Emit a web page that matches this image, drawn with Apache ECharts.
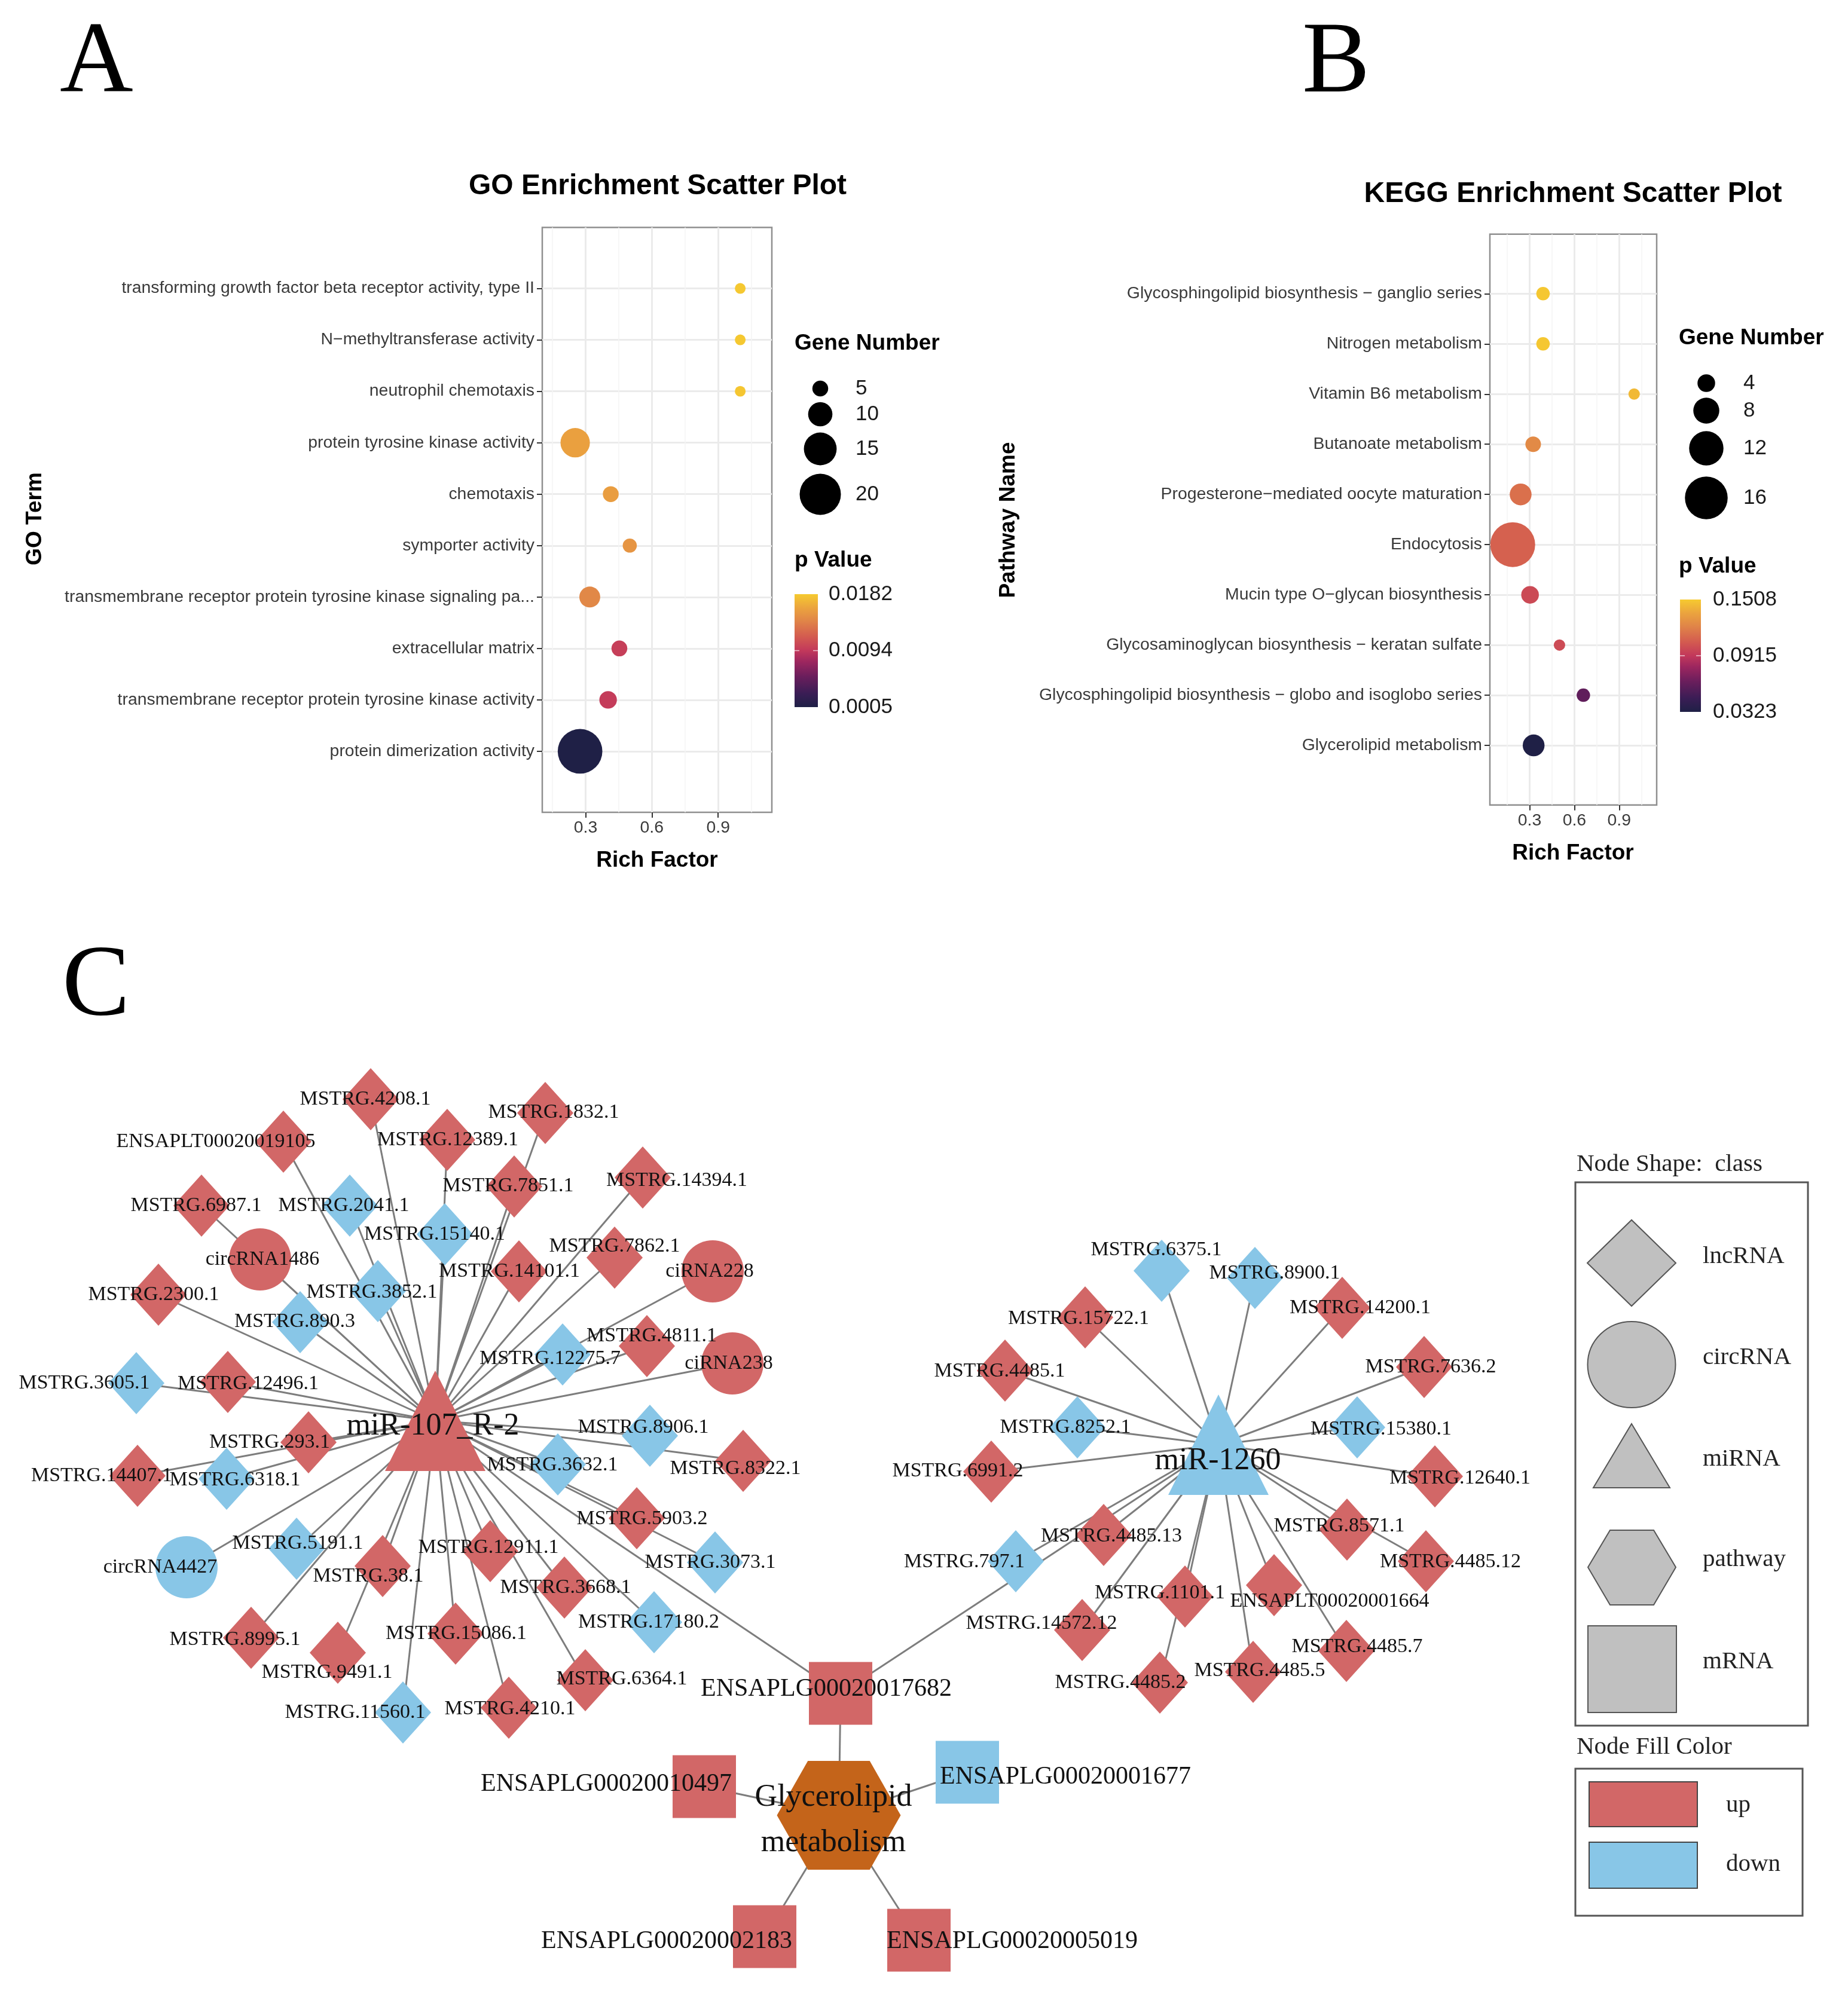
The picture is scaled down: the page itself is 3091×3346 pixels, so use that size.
<!DOCTYPE html>
<html><head><meta charset="utf-8">
<script src="https://cdn.jsdelivr.net/npm/echarts@6/dist/echarts.min.js"></script>
<style>html,body{margin:0;padding:0;background:#fff}#c{width:3091px;height:3346px}</style>
</head><body><div id="c"></div>
<script>
// ================= DATA =================
// Panel A: GO enrichment (top to bottom as shown)
const goTerms = ['transforming growth factor beta receptor activity, type II','N\u2212methyltransferase activity','neutrophil chemotaxis','protein tyrosine kinase activity','chemotaxis','symporter activity','transmembrane receptor protein tyrosine kinase signaling pa...','extracellular matrix','transmembrane receptor protein tyrosine kinase activity','protein dimerization activity'];
const goRichFactor = [1.0, 1.0, 1.0, 0.253, 0.414, 0.5, 0.319, 0.453, 0.402, 0.275];
const goGeneNumber = [2, 2, 2, 13, 5, 4, 8, 5, 6, 22];
const goPValue = [0.0181, 0.0181, 0.0180, 0.0158, 0.0156, 0.0151, 0.0142, 0.0098, 0.0096, 0.0005];
const goXTicks = [0.3, 0.6, 0.9];
const goXMinor = [0.15, 0.45, 0.75, 1.05];
const goSizeBreaks = [5, 10, 15, 20];
const goPBreaks = ['0.0182', '0.0094', '0.0005'];
const goPRange = [0.0005, 0.0182];

// Panel B: KEGG enrichment (top to bottom as shown)
const keggPathways = ['Glycosphingolipid biosynthesis \u2212 ganglio series','Nitrogen metabolism','Vitamin B6 metabolism','Butanoate metabolism','Progesterone\u2212mediated oocyte maturation','Endocytosis','Mucin type O\u2212glycan biosynthesis','Glycosaminoglycan biosynthesis \u2212 keratan sulfate','Glycosphingolipid biosynthesis \u2212 globo and isoglobo series','Glycerolipid metabolism'];
const keggRichFactor = [0.39, 0.39, 1.0, 0.324, 0.24, 0.187, 0.303, 0.5, 0.66, 0.327];
const keggGeneNumber = [2, 2, 1, 3, 6, 17, 4, 1, 2, 6];
const keggPValue = [0.1497, 0.1497, 0.1444, 0.1251, 0.1144, 0.1085, 0.0991, 0.0995, 0.0607, 0.0323];
const keggXTicks = [0.3, 0.6, 0.9];
const keggXMinor = [0.15, 0.45, 0.75, 1.05];
const keggSizeBreaks = [4, 8, 12, 16];
const keggPBreaks = ['0.1508', '0.0915', '0.0323'];
const keggPRange = [0.0323, 0.1508];

// Panel C: network nodes [name, class, regulation]
const netNodes = [
 ['MSTRG.4208.1','lncRNA','up'],['MSTRG.1832.1','lncRNA','up'],['ENSAPLT00020019105','lncRNA','up'],['MSTRG.12389.1','lncRNA','up'],
 ['MSTRG.7851.1','lncRNA','up'],['MSTRG.14394.1','lncRNA','up'],['MSTRG.6987.1','lncRNA','up'],['MSTRG.2041.1','lncRNA','down'],
 ['MSTRG.15140.1','lncRNA','down'],['circRNA1486','circRNA','up'],['MSTRG.7862.1','lncRNA','up'],['ciRNA228','circRNA','up'],
 ['MSTRG.14101.1','lncRNA','up'],['MSTRG.2300.1','lncRNA','up'],['MSTRG.3852.1','lncRNA','down'],['MSTRG.890.3','lncRNA','down'],
 ['MSTRG.12275.7','lncRNA','down'],['MSTRG.4811.1','lncRNA','up'],['ciRNA238','circRNA','up'],['MSTRG.3605.1','lncRNA','down'],
 ['MSTRG.12496.1','lncRNA','up'],['MSTRG.8906.1','lncRNA','down'],['MSTRG.293.1','lncRNA','up'],['MSTRG.14407.1','lncRNA','up'],
 ['MSTRG.6318.1','lncRNA','down'],['MSTRG.3632.1','lncRNA','down'],['MSTRG.8322.1','lncRNA','up'],['MSTRG.5903.2','lncRNA','up'],
 ['circRNA4427','circRNA','down'],['MSTRG.5191.1','lncRNA','down'],['MSTRG.12911.1','lncRNA','up'],['MSTRG.3073.1','lncRNA','down'],
 ['MSTRG.38.1','lncRNA','up'],['MSTRG.3668.1','lncRNA','up'],['MSTRG.17180.2','lncRNA','down'],['MSTRG.8995.1','lncRNA','up'],
 ['MSTRG.15086.1','lncRNA','up'],['MSTRG.9491.1','lncRNA','up'],['MSTRG.6364.1','lncRNA','up'],['MSTRG.11560.1','lncRNA','down'],
 ['MSTRG.4210.1','lncRNA','up'],
 ['MSTRG.6375.1','lncRNA','down'],['MSTRG.8900.1','lncRNA','down'],['MSTRG.15722.1','lncRNA','up'],['MSTRG.14200.1','lncRNA','up'],
 ['MSTRG.4485.1','lncRNA','up'],['MSTRG.7636.2','lncRNA','up'],['MSTRG.8252.1','lncRNA','down'],['MSTRG.15380.1','lncRNA','down'],
 ['MSTRG.6991.2','lncRNA','up'],['MSTRG.12640.1','lncRNA','up'],['MSTRG.8571.1','lncRNA','up'],['MSTRG.4485.13','lncRNA','up'],
 ['MSTRG.797.1','lncRNA','down'],['MSTRG.4485.12','lncRNA','up'],['MSTRG.1101.1','lncRNA','up'],['ENSAPLT00020001664','lncRNA','up'],
 ['MSTRG.14572.12','lncRNA','up'],['MSTRG.4485.7','lncRNA','up'],['MSTRG.4485.5','lncRNA','up'],['MSTRG.4485.2','lncRNA','up'],
 ['ENSAPLG00020017682','mRNA','up'],['ENSAPLG00020010497','mRNA','up'],['ENSAPLG00020001677','mRNA','down'],
 ['ENSAPLG00020002183','mRNA','up'],['ENSAPLG00020005019','mRNA','up'],
 ['miR-107_R-2','miRNA','up'],['miR-1260','miRNA','down'],
 ['Glycerolipid metabolism','pathway','pathway']
];
const mir107Targets = ['MSTRG.4208.1','MSTRG.1832.1','ENSAPLT00020019105','MSTRG.12389.1','MSTRG.7851.1','MSTRG.14394.1','MSTRG.6987.1','MSTRG.2041.1','MSTRG.15140.1','circRNA1486','MSTRG.7862.1','ciRNA228','MSTRG.14101.1','MSTRG.2300.1','MSTRG.3852.1','MSTRG.890.3','MSTRG.12275.7','MSTRG.4811.1','ciRNA238','MSTRG.3605.1','MSTRG.12496.1','MSTRG.8906.1','MSTRG.293.1','MSTRG.14407.1','MSTRG.6318.1','MSTRG.3632.1','MSTRG.8322.1','MSTRG.5903.2','circRNA4427','MSTRG.5191.1','MSTRG.12911.1','MSTRG.3073.1','MSTRG.38.1','MSTRG.3668.1','MSTRG.17180.2','MSTRG.8995.1','MSTRG.15086.1','MSTRG.9491.1','MSTRG.6364.1','MSTRG.11560.1','MSTRG.4210.1','ENSAPLG00020017682'];
const mir1260Targets = ['MSTRG.6375.1','MSTRG.8900.1','MSTRG.15722.1','MSTRG.14200.1','MSTRG.4485.1','MSTRG.7636.2','MSTRG.8252.1','MSTRG.15380.1','MSTRG.6991.2','MSTRG.12640.1','MSTRG.8571.1','MSTRG.4485.13','MSTRG.797.1','MSTRG.4485.12','MSTRG.1101.1','ENSAPLT00020001664','MSTRG.14572.12','MSTRG.4485.7','MSTRG.4485.5','MSTRG.4485.2','ENSAPLG00020017682'];
const pathwayGenes = ['ENSAPLG00020017682','ENSAPLG00020010497','ENSAPLG00020001677','ENSAPLG00020002183','ENSAPLG00020005019'];
const shapeLegend = ['lncRNA','circRNA','miRNA','pathway','mRNA'];
const colorLegend = ['up','down'];

// ================= LAYOUT (network coordinates, label shifts) =================
const nodeLayout = {
 'MSTRG.4208.1':[620,1839,-9,0],'MSTRG.1832.1':[912,1862,14,-1],'ENSAPLT00020019105':[474,1910,-113,0],'MSTRG.12389.1':[748,1907,1,0],
 'MSTRG.7851.1':[860,1985,-10,-1],'MSTRG.14394.1':[1075,1970,57,5],'MSTRG.6987.1':[337,2017,-9,0],'MSTRG.2041.1':[585,2017,-10,0],
 'MSTRG.15140.1':[744,2065,-17,0],'circRNA1486':[435,2107,4,0],'MSTRG.7862.1':[1028,2104,0,-19],'ciRNA228':[1192,2127,-5,0],
 'MSTRG.14101.1':[868,2127,-16,0],'MSTRG.2300.1':[265,2166,-8,0],'MSTRG.3852.1':[632,2160,-10,2],'MSTRG.890.3':[502,2212,-9,-1],
 'MSTRG.12275.7':[941,2266,-21,7],'MSTRG.4811.1':[1082,2252,8,-17],'ciRNA238':[1225,2281,-6,0],'MSTRG.3605.1':[228,2314,-87,0],
 'MSTRG.12496.1':[381,2312,34,3],'MSTRG.8906.1':[1087,2402,-11,-14],'MSTRG.293.1':[516,2413,-65,0],'MSTRG.14407.1':[230,2469,-60,0],
 'MSTRG.6318.1':[379,2474,14,2],'MSTRG.3632.1':[933,2450,-9,1],'MSTRG.8322.1':[1243,2444,-13,13],'MSTRG.5903.2':[1065,2540,9,1],
 'circRNA4427':[312,2622,-44,0],'MSTRG.5191.1':[496,2591,2,-9],'MSTRG.12911.1':[820,2595,-3,-6],'MSTRG.3073.1':[1196,2614,-8,0],
 'MSTRG.38.1':[640,2620,-24,17],'MSTRG.3668.1':[944,2656,2,0],'MSTRG.17180.2':[1094,2714,-9,0],'MSTRG.8995.1':[420,2740,-27,3],
 'MSTRG.15086.1':[762,2733,1,0],'MSTRG.9491.1':[565,2765,-18,33],'MSTRG.6364.1':[979,2811,61,-2],'MSTRG.11560.1':[674,2865,-80,0],
 'MSTRG.4210.1':[851,2857,2,2],
 'MSTRG.6375.1':[1943,2126,-9,-35],'MSTRG.8900.1':[2099,2138,33,-8],'MSTRG.15722.1':[1815,2204,-11,2],'MSTRG.14200.1':[2245,2188,30,0],
 'MSTRG.4485.1':[1681,2293,-9,1],'MSTRG.7636.2':[2382,2287,11,0],'MSTRG.8252.1':[1802,2388,-20,0],'MSTRG.15380.1':[2270,2388,40,3],
 'MSTRG.6991.2':[1658,2462,-56,-1],'MSTRG.12640.1':[2400,2470,42,3],'MSTRG.8571.1':[2253,2559,-13,-6],'MSTRG.4485.13':[1846,2568,13,2],
 'MSTRG.797.1':[1699,2612,-86,1],'MSTRG.4485.12':[2385,2612,41,1],'MSTRG.1101.1':[1982,2671,-42,-6],'ENSAPLT00020001664':[2131,2652,93,27],
 'MSTRG.14572.12':[1810,2727,-68,-11],'MSTRG.4485.7':[2252,2762,18,-7],'MSTRG.4485.5':[2096,2797,11,-2],'MSTRG.4485.2':[1940,2815,-66,0],
 'ENSAPLG00020017682':[1406,2833,-24,-7],'ENSAPLG00020010497':[1178,2989,-164,-4],'ENSAPLG00020001677':[1618,2965,164,8],
 'ENSAPLG00020002183':[1279,3240,-164,8],'ENSAPLG00020005019':[1537,3246,156,2],
 'miR-107_R-2':[728,2377,-4,9],'miR-1260':[2038,2417,-1,27],
 'Glycerolipid metabolism':[1403,3037,-9,8]
};

// ================= STYLES =================
const RED = '#d26767', BLUE = '#88c6e7', ORANGE = '#c4641a', GREY = '#c0c0c0';
const SANS = '"Liberation Sans", Arial, sans-serif';
const SERIF = '"Liberation Serif", "Times New Roman", serif';
const stops = [[0,'#1f2046'],[0.12,'#3a1d55'],[0.27,'#6a1e5c'],[0.40,'#9c265f'],[0.50,'#c2385b'],[0.62,'#d35a50'],[0.76,'#e08448'],[0.88,'#eba43e'],[1,'#f6ca30']];
function hex2rgb(h){return [1,3,5].map(i=>parseInt(h.substr(i,2),16));}
function colorAt(t){
  t = Math.max(0, Math.min(1, t));
  for (let i = 1; i < stops.length; i++) {
    if (t <= stops[i][0]) {
      const a = stops[i-1], b = stops[i], f = (t - a[0]) / (b[0] - a[0]);
      const ca = hex2rgb(a[1]), cb = hex2rgb(b[1]);
      return 'rgb(' + ca.map((v,k)=>Math.round(v + (cb[k]-v)*f)).join(',') + ')';
    }
  }
  return stops[stops.length-1][1];
}
const sizeA = n => 12.3 + 2.835 * n;
const sizeB = n => 15.5 + 3.5 * n;
const hexPath = 'path://M25,0L75,0L100,50L75,100L25,100L0,50Z';
const symbolOf = {lncRNA:['diamond',[94,104]], circRNA:['circle',[104,104]], miRNA:['triangle',[168,168]], mRNA:['rect',[106,105]], pathway:[hexPath,[207,182]]};
const fontOf = {lncRNA:34, circRNA:34, miRNA:52, mRNA:42, pathway:52};
const fillOf = {up:RED, down:BLUE, pathway:ORANGE};

// ================= BUILD =================
const chart = echarts.init(document.getElementById('c'), null, {renderer:'canvas'});
const nA = goTerms.length, nB = keggPathways.length;
const goData = goTerms.map((t,i)=>[goRichFactor[i], nA - i, goPValue[i], goGeneNumber[i], t]);
const keggData = keggPathways.map((t,i)=>[keggRichFactor[i], nB - i, keggPValue[i], keggGeneNumber[i], t]);
const yTicksA = goTerms.map((_,i)=>i+1), yTicksB = keggPathways.map((_,i)=>i+1);

function xAxesFor(gi, min, max, major, minor){
  return [
    {gridIndex:gi, type:'value', min, max, position:'bottom', axisLine:{show:false},
     axisTick:{show:false, customValues:minor}, axisLabel:{show:false},
     splitLine:{show:true, lineStyle:{color:'#f4f4f4', width:1.5}}},
    {gridIndex:gi, type:'value', min, max, position:'bottom', axisLine:{show:false},
     axisTick:{show:true, customValues:major, length:9, lineStyle:{color:'#333', width:2}},
     axisLabel:{customValues:major, formatter:v=>v.toFixed(1), fontSize:28.4, fontFamily:SANS, color:'#3a3a3a', margin:12},
     splitLine:{show:true, lineStyle:{color:'#ebebeb', width:3}}}
  ];
}
function yAxisFor(gi, ticks, cats){
  return {gridIndex:gi, type:'value', min:-0.186, max:cats.length+1.186, axisLine:{show:false},
    axisTick:{show:true, customValues:ticks, length:9, lineStyle:{color:'#333', width:2}},
    axisLabel:{customValues:ticks, formatter:v=>cats[cats.length - Math.round(v)], fontSize:28.4, fontFamily:SANS, color:'#3a3a3a', margin:13},
    splitLine:{show:true, lineStyle:{color:'#ebebeb', width:3}}};
}

// network
const nodeData = netNodes.map(([name, cls, reg])=>{
  const L = nodeLayout[name];
  const sym = symbolOf[cls];
  const lab = {show:true, position:'inside', offset:[L[2], L[3]], fontSize:fontOf[cls], fontFamily:SERIF, color:'#111'};
  if (cls === 'pathway') { lab.formatter = 'Glycerolipid\nmetabolism'; lab.lineHeight = 76; }
  return {name, value:[L[0], L[1]], symbol:sym[0], symbolSize:sym[1], itemStyle:{color:fillOf[reg], opacity:1}, label:lab};
});
const links = [];
mir107Targets.forEach(t=>links.push({source:'miR-107_R-2', target:t}));
mir1260Targets.forEach(t=>links.push({source:'miR-1260', target:t}));
pathwayGenes.forEach(t=>links.push({source:'Glycerolipid metabolism', target:t}));

// graphics (titles, legends)
const G = [];
function txt(x, y, s, font, align, vAlign, rot, fill){
  G.push({type:'text', x, y, rotation:rot||0, silent:true, z:100,
    style:{text:s, font, fill:fill||'#000', align:align||'left', verticalAlign:vAlign||'middle', textAlign:align||'left', textVerticalAlign:vAlign||'middle'}});
}
// panel letters
txt(100, 108, 'A', '170px ' + SERIF);
txt(2178, 108, 'B', '170px ' + SERIF);
txt(104, 1652, 'C', '170px ' + SERIF);
// titles
txt(1100, 312, 'GO Enrichment Scatter Plot', 'bold 48px ' + SANS, 'center');
txt(2631, 325, 'KEGG Enrichment Scatter Plot', 'bold 48px ' + SANS, 'center');
txt(1099, 1440, 'Rich Factor', 'bold 37px ' + SANS, 'center');
txt(2631, 1428, 'Rich Factor', 'bold 37px ' + SANS, 'center');
txt(59, 868, 'GO Term', 'bold 37px ' + SANS, 'center', 'middle', Math.PI/2);
txt(1687, 870, 'Pathway Name', 'bold 37px ' + SANS, 'center', 'middle', Math.PI/2);

function sizeLegend(x0, title, titleY, cx, cys, breaks, sz, labX){
  txt(x0, titleY, title, 'bold 37px ' + SANS);
  breaks.forEach((b,i)=>{
    G.push({type:'circle', silent:true, z:100, shape:{cx, cy:cys[i], r:sz(b)/2}, style:{fill:'#000'}});
    txt(labX, cys[i], String(b), '35px ' + SANS, 'left', 'middle', 0, '#1a1a1a');
  });
}
function colorLegendBar(x0, titleY, bx, by, bw, bh, labels, labX){
  txt(x0, titleY, 'p Value', 'bold 37px ' + SANS);
  const cs = stops.map(s=>({offset:1 - s[0], color:s[1]})).reverse();
  G.push({type:'rect', silent:true, z:100, shape:{x:bx, y:by, width:bw, height:bh},
    style:{fill:new echarts.graphic.LinearGradient(0,0,0,1,cs)}});
  const ym = by + bh/2;
  G.push({type:'line', silent:true, z:101, shape:{x1:bx, y1:ym, x2:bx+8, y2:ym}, style:{stroke:'#fff', lineWidth:1.5, opacity:0.7}});
  G.push({type:'line', silent:true, z:101, shape:{x1:bx+bw-8, y1:ym, x2:bx+bw, y2:ym}, style:{stroke:'#fff', lineWidth:1.5, opacity:0.7}});
  [by, ym, by+bh].forEach((y,i)=>txt(labX, y, labels[i], '35px ' + SANS, 'left', 'middle', 0, '#1a1a1a'));
}
sizeLegend(1329, 'Gene Number', 575, 1372, [650, 693, 751, 827], goSizeBreaks, sizeA, 1431);
colorLegendBar(1329, 938, 1329, 994, 39, 189, goPBreaks, 1386);
sizeLegend(2808, 'Gene Number', 566, 2854, [641, 687, 750, 833], keggSizeBreaks, sizeB, 2916);
colorLegendBar(2808, 948, 2810, 1003, 35, 188, keggPBreaks, 2865);

// network legend
const LS = {fill:GREY, stroke:'#555', lineWidth:2};
txt(2637, 1948, 'Node Shape:  class', '41px ' + SERIF, 'left', 'middle', 0, '#222');
G.push({type:'rect', silent:true, z:100, shape:{x:2635, y:1978, width:389, height:909}, style:{fill:'none', stroke:'#555', lineWidth:3}});
G.push({type:'polygon', silent:true, z:100, shape:{points:[[2655,2113],[2729,2041],[2803,2113],[2729,2185]]}, style:LS});
G.push({type:'ellipse', silent:true, z:100, shape:{cx:2729, cy:2283, rx:73.5, ry:72}, style:LS});
G.push({type:'polygon', silent:true, z:100, shape:{points:[[2729,2382],[2793,2489],[2665,2489]]}, style:LS});
G.push({type:'polygon', silent:true, z:100, shape:{points:[[2656,2622],[2693,2560],[2766,2560],[2803,2622],[2766,2685],[2693,2685]]}, style:LS});
G.push({type:'rect', silent:true, z:100, shape:{x:2656, y:2720, width:148, height:145}, style:LS});
const shapeLabY = [2102, 2271, 2441, 2609, 2780];
shapeLegend.forEach((s,i)=>txt(2848, shapeLabY[i], s, '41px ' + SERIF, 'left', 'middle', 0, '#222'));
txt(2637, 2923, 'Node Fill Color', '41px ' + SERIF, 'left', 'middle', 0, '#222');
G.push({type:'rect', silent:true, z:100, shape:{x:2635, y:2959, width:380, height:246}, style:{fill:'none', stroke:'#555', lineWidth:3}});
G.push({type:'rect', silent:true, z:100, shape:{x:2658, y:2981, width:181, height:75}, style:{fill:RED, stroke:'#444', lineWidth:2}});
G.push({type:'rect', silent:true, z:100, shape:{x:2658, y:3082, width:181, height:77}, style:{fill:BLUE, stroke:'#444', lineWidth:2}});
const colLabY = [3020, 3119];
colorLegend.forEach((s,i)=>txt(2887, colLabY[i], s, '41px ' + SERIF, 'left', 'middle', 0, '#222'));

const option = {
  animation:false,
  backgroundColor:'#fff',
  grid:[
    {left:907, top:380.5, width:384, height:978.5, show:true, borderColor:'#8f8f8f', borderWidth:2.5, backgroundColor:'#fff'},
    {left:2492, top:391.7, width:279, height:955, show:true, borderColor:'#8f8f8f', borderWidth:2.5, backgroundColor:'#fff'},
    {left:0, top:0, width:3091, height:3346, show:false}
  ],
  xAxis:[
    ...xAxesFor(0, 0.104, 1.143, goXTicks, goXMinor),
    ...xAxesFor(1, 0.034, 1.151, keggXTicks, keggXMinor),
    {gridIndex:2, type:'value', min:0, max:3091, show:false}
  ],
  yAxis:[
    yAxisFor(0, yTicksA, goTerms),
    yAxisFor(1, yTicksB, keggPathways),
    {gridIndex:2, type:'value', min:0, max:3346, inverse:true, show:false}
  ],
  series:[
    {type:'scatter', xAxisIndex:1, yAxisIndex:0, data:goData, symbolSize:v=>sizeA(v[3]),
     itemStyle:{opacity:1, color:p=>colorAt((p.value[2]-goPRange[0])/(goPRange[1]-goPRange[0]))}, emphasis:{disabled:true}, z:5},
    {type:'scatter', xAxisIndex:3, yAxisIndex:1, data:keggData, symbolSize:v=>sizeB(v[3]),
     itemStyle:{opacity:1, color:p=>colorAt((p.value[2]-keggPRange[0])/(keggPRange[1]-keggPRange[0]))}, emphasis:{disabled:true}, z:5},
    {type:'graph', coordinateSystem:'cartesian2d', xAxisIndex:4, yAxisIndex:2, layout:'none', roam:false,
     data:nodeData, links, label:{show:true}, lineStyle:{color:'#7d7d7d', width:3, opacity:1, curveness:0},
     emphasis:{disabled:true}, z:3}
  ],
  graphic:G
};
chart.setOption(option);
</script>
</body></html>
